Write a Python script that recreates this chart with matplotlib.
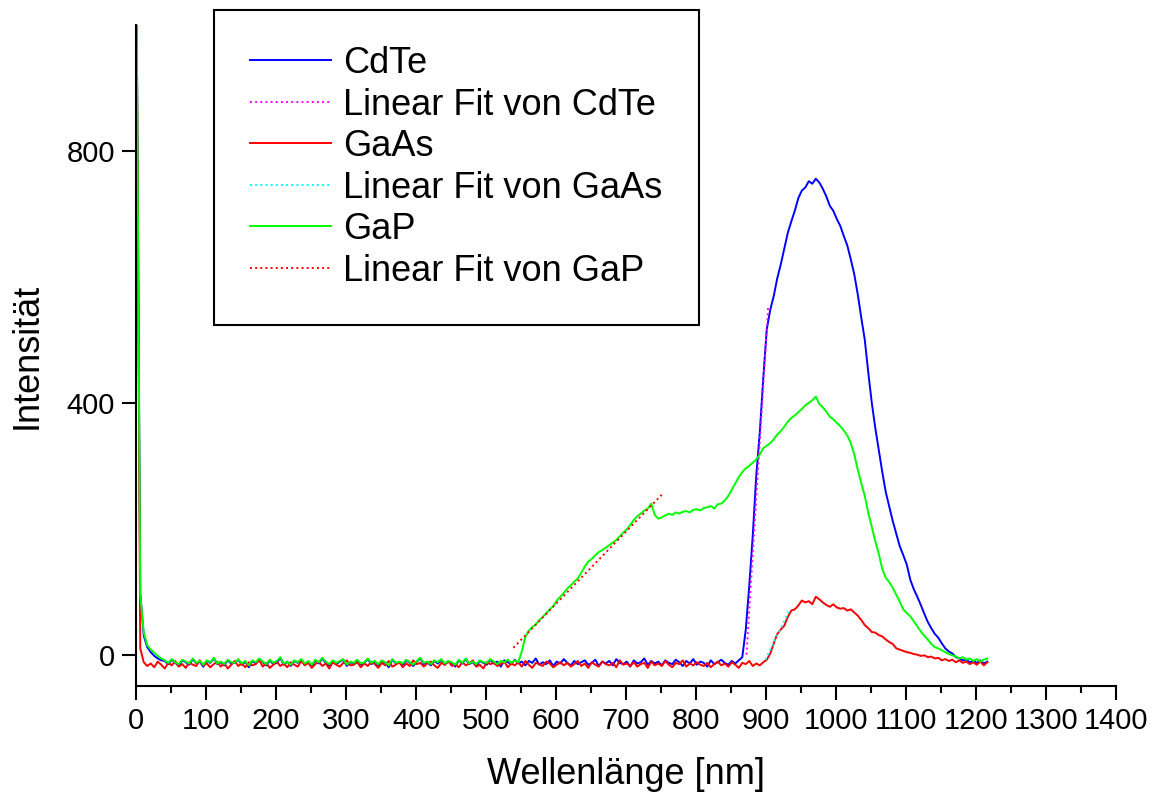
import numpy as np
import matplotlib
matplotlib.use("Agg")
import matplotlib.pyplot as plt

plt.rcParams['font.family'] = ['Liberation Sans', 'DejaVu Sans']

# Wellenlängen-Raster (nm), Schritt 5 nm
wl = np.arange(1, 1217, 5)

# CdTe: Spitze am Anfang, Grundlinie, Peak
cdte_head = [1000, 98, 30, 12, 4, -2, -6, -9]
cdte_base = [
    -10, -15, -8, -13, -18, -9, -12, -16, -7, -14, -11, -19, -10, -13, -6, -15, -12, -17, -9, -14,
    -13, -8, -16, -11, -20, -10, -14, -7, -12, -17, -9, -15, -13, -5, -16, -11, -18, -10, -13, -8,
    -15, -12, -19, -9, -14, -6, -13, -17, -10, -15, -11, -8, -18, -12, -14, -9, -16, -13, -7, -15,
    -11, -17, -10, -13, -20, -8, -14, -12, -16, -9, -13, -18, -11, -6, -15, -12, -17, -10, -14, -8,
    -16, -11, -13, -19, -9, -14, -7, -15, -12, -18, -10, -13, -16, -8, -14, -11, -19, -9, -12, -15,
    -8, -14, -11, -17, -10, -13, -6, -16, -12, -15, -9, -18, -11, -14, -7, -13, -17, -10, -15, -12,
    -9, -16, -13, -8, -18, -11, -14, -10, -17, -7, -13, -15, -11, -19, -9, -14, -12, -6, -16, -10,
    -14, -11, -17, -9, -13, -15, -8, -12, -18, -10, -14, -7, -16, -11, -13, -19, -9, -15, -12, -8,
    -13, -16, -10, -14, -9,
]
cdte_peak = [
    -4, 40, 110, 190, 285, 353, 440, 517, 548, 570,
    598, 620, 645, 670, 688, 705, 725, 737, 742, 752,
    748, 756, 750, 740, 728, 713, 705, 692, 681, 665,
    650, 628, 604, 572, 535, 500, 448, 400, 360, 325,
    290, 258, 235, 212, 192, 172, 158, 143, 119, 104,
    92, 79, 65, 52, 42, 33, 27, 18, 10, 5,
    2, -4, -6, -9, -8, -12, -10, -13, -9, -14,
    -11,
]

# GaAs
gaas_head = [1000, 10]
gaas_base = [
    -12, -18, -14, -20, -11, -16, -22, -13, -17, -10, -19, -15, -21, -12, -16, -18, -9, -17, -14, -20,
    -15, -11, -19, -13, -22, -16, -10, -18, -14, -20, -12, -17, -15, -9, -19, -13, -21, -16, -11, -18,
    -14, -20, -12, -16, -19, -10, -17, -13, -21, -15, -11, -18, -14, -22, -12, -16, -19, -13, -9, -17,
    -16, -12, -20, -14, -18, -11, -15, -21, -13, -17, -10, -19, -16, -12, -20, -14, -18, -9, -15, -13,
    -19, -14, -11, -17, -21, -13, -16, -10, -18, -15, -20, -12, -17, -14, -9, -19, -16, -22, -12, -15,
    -13, -18, -15, -11, -20, -14, -17, -12, -19, -10, -16, -21, -13, -15, -18, -11, -14, -20, -16, -12,
    -17, -13, -19, -15, -10, -18, -14, -21, -12, -16, -19, -11, -15, -17, -13, -20, -9, -16, -14, -18,
    -12, -19, -15, -13, -21, -11, -17, -14, -18, -10, -16, -20, -13, -15, -9, -19, -14, -17, -12, -16,
    -18, -13, -20, -15, -11, -17, -14, -19, -12, -16, -21, -13, -15, -10, -18, -14, -17, -12,
]
gaas_peak = [
    -8, 2, 18, 33, 40, 46, 60, 70, 72, 78,
    86, 83, 85, 80, 92, 88, 83, 79, 76, 80,
    75, 73, 74, 70, 72, 67, 62, 55, 47, 42,
    36, 35, 31, 29, 24, 20, 17, 10, 8, 6,
    4, 3, 1, 0, -2, -1, -4, -3, -6, -5,
    -9, -7, -10, -8, -12, -9, -13, -11, -15, -12,
    -16, -11, -17, -12,
]

# GaP
gap_head = [1000, 95, 35, 15, 8, 3, -2, -6]
gap_base = [
    -9, -13, -7, -12, -15, -8, -11, -14, -6, -13, -10, -16, -9, -12, -5, -14, -11, -15, -8, -12,
    -13, -7, -14, -10, -17, -9, -12, -6, -11, -15, -8, -13, -10, -4, -14, -11, -16, -9, -12, -7,
    -14, -10, -16, -8, -12, -5, -11, -15, -9, -13, -10, -7, -16, -11, -13, -8, -14, -12, -6, -13,
    -10, -15, -9, -12, -17, -7, -13, -11, -14, -8, -12, -16, -10, -5, -13, -11, -15, -9, -12, -7,
    -14, -10, -12, -16, -8, -13, -6, -14, -11, -15, -9, -12, -13, -7, -11, -15, -10, -12, -8, -13,
    -9, -12,
]
gap_peak = [
    5, 28, 38, 44, 48, 55, 60, 66, 72, 77,
    86, 92, 98, 105, 110, 116, 121, 130, 140, 148,
    152, 158, 163, 166, 170, 174, 178, 182, 188, 194,
    199, 206, 214, 220, 224, 229, 232, 240, 222, 216,
    218, 221, 224, 222, 226, 224, 227, 228, 226, 230,
    231, 229, 233, 234, 236, 232, 239, 240, 245, 252,
    262, 272, 282, 290, 296, 300, 305, 310, 318, 328,
    332, 336, 342, 350, 355, 362, 370, 376, 380, 385,
    390, 396, 400, 404, 410, 398, 393, 386, 378, 374,
    368, 363, 356, 348, 336, 318, 294, 272, 252, 225,
    203, 180, 160, 136, 122, 115, 106, 95, 84, 72,
    66, 61, 53, 45, 37, 30, 24, 17, 12, 10,
    7, 4, 1, -1, -3, -6, -4, -8, -6, -10,
    -7, -11, -8, -6,
]

cdte = cdte_head + cdte_base + cdte_peak
gaas = gaas_head + gaas_base + gaas_peak
gap = gap_head + gap_base + gap_peak

# lineare Fits (Endpunkte)
fit_cdte_x = [872, 903]
fit_cdte_y = [0, 553]
fit_gaas_x = [899, 934]
fit_gaas_y = [-8, 72]
fit_gap_x = [539, 751]
fit_gap_y = [11, 254]

fig = plt.figure(figsize=(11.53, 7.96), dpi=100)
ax = fig.add_axes([0.118, 0.138, 0.850, 0.8305])

lw = 1.4
ax.plot(wl, cdte, color='#0000ff', lw=lw, label='CdTe')
ax.plot(fit_cdte_x, fit_cdte_y, color='#ff00ff', lw=lw, ls=':', label='Linear Fit von CdTe')
ax.plot(wl, gaas, color='#ff0000', lw=lw, label='GaAs')
ax.plot(fit_gaas_x, fit_gaas_y, color='#00ffff', lw=lw, ls=':', label='Linear Fit von GaAs')
ax.plot(wl, gap, color='#00ff00', lw=lw, label='GaP')
ax.plot(fit_gap_x, fit_gap_y, color='#ff0000', lw=lw, ls=':', label='Linear Fit von GaP')

ax.set_xlim(0, 1400)
ax.set_ylim(-50, 1000)
ax.set_xticks(np.arange(0, 1401, 100))
ax.set_xticks(np.arange(50, 1400, 100), minor=True)
ax.set_yticks([0, 400, 800])

for s in ['top', 'right']:
    ax.spines[s].set_visible(False)
for s in ['left', 'bottom']:
    ax.spines[s].set_linewidth(1.5)

ax.tick_params(which='major', direction='out', length=10, width=1.5, labelsize=21, pad=5)
ax.tick_params(which='minor', direction='out', length=5, width=1.5)

ax.set_xlabel('Wellenlänge [nm]', fontsize=26, labelpad=16)
ax.set_ylabel('Intensität', fontsize=26, labelpad=16)

leg = ax.legend(loc='upper left', bbox_to_anchor=(214 / 1153, 1 - 10 / 796),
                bbox_transform=fig.transFigure, fontsize=26, frameon=True,
                fancybox=False, handlelength=2.25, handletextpad=0.33,
                labelspacing=0.18, borderpad=1.0, borderaxespad=0)
leg.get_frame().set_edgecolor('black')
leg.get_frame().set_linewidth(1.5)
leg.get_frame().set_alpha(1)

fig.savefig('out.png', dpi=100)
